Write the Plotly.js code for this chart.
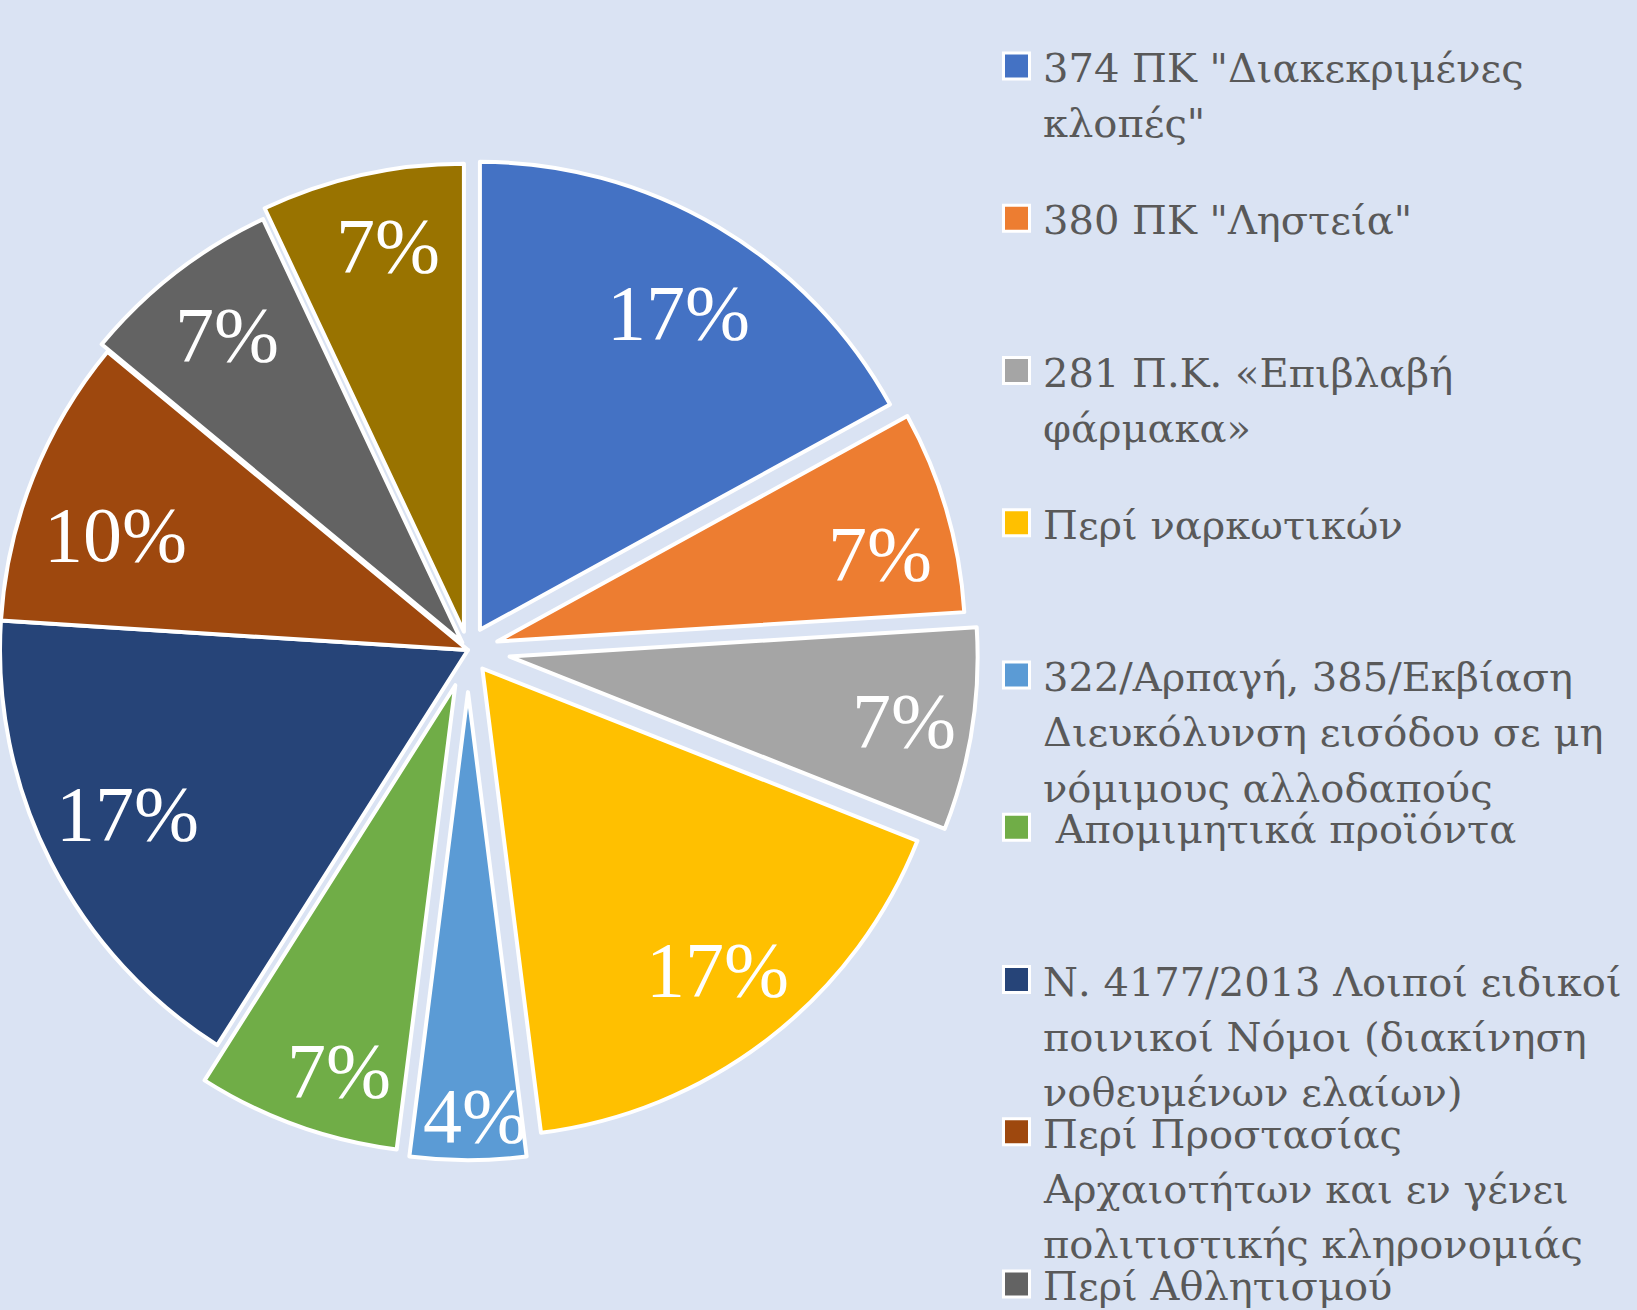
<!DOCTYPE html>
<html><head><meta charset="utf-8">
<script src="https://cdn.plot.ly/plotly-3.0.1.min.js"></script>
<style>
html,body{margin:0;padding:0;overflow:hidden;background:#dae3f3;width:1637px;height:1310px;}
#chart{position:absolute;left:-44px;top:0;width:1681px;height:1310px;}
</style>
</head><body><div id="chart"></div>
<script>
// ---- data ----
const categories = [
  '374 ΠΚ "Διακεκριμένες\nκλοπές"',
  '380 ΠΚ "Ληστεία"',
  '281 Π.Κ. «Επιβλαβή\nφάρμακα»',
  'Περί ναρκωτικών',
  '322/Αρπαγή, 385/Εκβίαση\nΔιευκόλυνση εισόδου σε μη\nνόμιμους αλλοδαπούς',
  '\u00a0Απομιμητικά προϊόντα',
  'Ν. 4177/2013 Λοιποί ειδικοί\nποινικοί Νόμοι (διακίνηση\nνοθευμένων ελαίων)',
  'Περί Προστασίας\nΑρχαιοτήτων και εν γένει\nπολιτιστικής κληρονομιάς',
  'Περί Αθλητισμού',
  'Λοιπά'
];
const shares = [17, 7, 7, 17, 4, 7, 17, 10, 7, 7];
const colors = ['#4472c4','#ed7d31','#a5a5a5','#ffc000','#5b9bd5','#70ad47','#264478','#9e480e','#636363','#997300'];

// ---- styling / layout ----
const pulls = [0.05, 0.065, 0.09, 0.05, 0.09, 0.08, 0, 0, 0.02, 0.04];
const labelRadius = [0.80, 0.84, 0.854, 0.815, 0.904, 0.859, 0.808, 0.793, 0.828, 0.84];
const labelAngleShift = [1.5, 3.2, 0.2, -0.2, -0.9, -3.0, 1.3, -3.5, 0.5, 1.5];
const W = 1637, H = 1310, SHIFT = 44, DIVW = W + SHIFT;
const CX = 468, CY = 650, R = 468;
const maxPull = Math.max.apply(null, pulls);
const half = R * (1 + maxPull);
const px = x => (x + SHIFT) / DIVW;
const py = y => 1 - y / H;

const total = shares.reduce((a, b) => a + b, 0);
const annotations = [];
const shapes = [];

// percentage labels
let cum = 0;
shares.forEach((v, i) => {
  const midDeg = (cum + v / 2) / total * 360;
  cum += v;
  const mid = midDeg * Math.PI / 180;
  const lab = (midDeg + labelAngleShift[i]) * Math.PI / 180;
  const pcx = CX + pulls[i] * R * Math.sin(mid);
  const pcy = CY - pulls[i] * R * Math.cos(mid);
  const rr = labelRadius[i] * R;
  annotations.push({
    xref: 'paper', yref: 'paper',
    x: px(pcx + rr * Math.sin(lab)), y: py(pcy - rr * Math.cos(lab)),
    xanchor: 'center', yanchor: 'middle', showarrow: false,
    text: Math.round(v / total * 100) + '%',
    font: {family: 'Liberation Serif, serif', size: 78, color: '#ffffff'}
  });
});

// legend
const legSize = 40;
const legTop = 82, entryPitch = 152.25, linePitch = 55.3;
const textX = 1041, boxX0 = 1003.5, boxX1 = 1029.5;
categories.forEach((c, i) => {
  const base = legTop + i * entryPitch;
  if (base - 30 > H) return;
  c.split('\n').forEach((line, j) => {
    const b = base + j * linePitch;
    annotations.push({
      xref: 'paper', yref: 'paper', x: px(textX), y: py(b - 14),
      xanchor: 'left', yanchor: 'middle', showarrow: false,
      text: line,
      font: {family: 'DejaVu Serif, serif', size: legSize, color: '#595959'}
    });
  });
  const cy = base - 16;
  shapes.push({
    type: 'rect', xref: 'paper', yref: 'paper',
    x0: px(boxX0), x1: px(boxX1), y0: py(cy + 13), y1: py(cy - 13),
    fillcolor: colors[i], line: {color: '#ffffff', width: 3}
  });
});

const trace = {
  type: 'pie',
  labels: categories.map(c => c.replace(/\n/g, ' ')),
  values: shares,
  sort: false,
  direction: 'clockwise',
  rotation: 0,
  pull: pulls,
  marker: {colors: colors, line: {color: '#ffffff', width: 4}},
  textinfo: 'none',
  hoverinfo: 'none',
  showlegend: false,
  domain: {
    x: [px(CX - half), px(CX + half)],
    y: [py(CY + half), py(CY - half)]
  }
};

const layout = {
  width: DIVW, height: H,
  margin: {l: 0, r: 0, t: 0, b: 0, pad: 0},
  paper_bgcolor: '#dae3f3',
  plot_bgcolor: '#dae3f3',
  showlegend: false,
  annotations: annotations,
  shapes: shapes
};

Plotly.newPlot('chart', [trace], layout, {displayModeBar: false, staticPlot: true});
</script>
</body></html>
